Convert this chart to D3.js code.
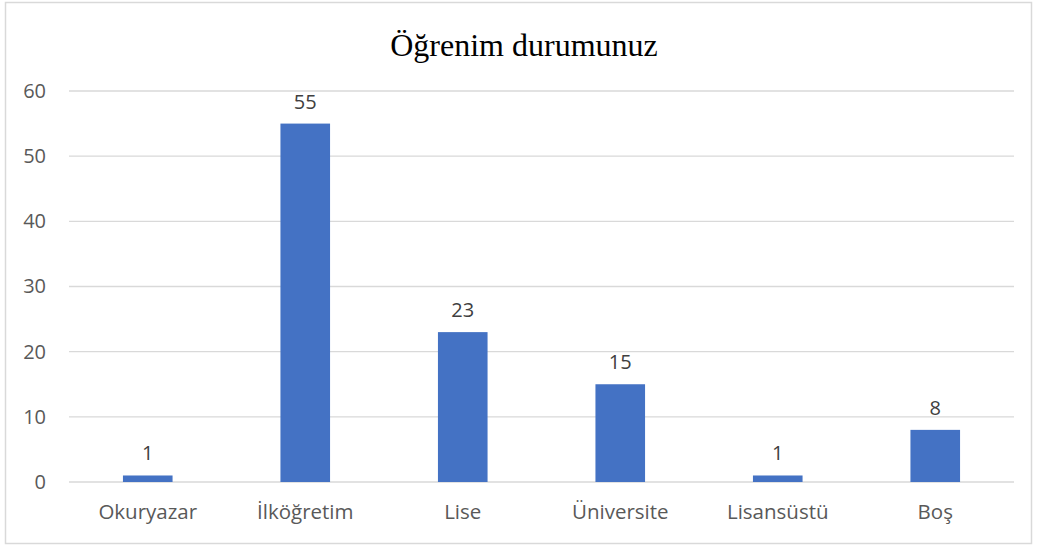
<!DOCTYPE html>
<html><head><meta charset="utf-8">
<script src="https://cdn.jsdelivr.net/npm/d3@7"></script>
<style>body{margin:0;background:#fff}</style>
</head><body>
<svg id="c" width="1037" height="547"></svg>
<script>
const categories = ["Okuryazar","İlköğretim","Lise","Üniversite","Lisansüstü","Boş"];
const values = [1,55,23,15,1,8];
const yTicks = [0,10,20,30,40,50,60];
const title = "Öğrenim durumunuz";

const svg = d3.select("#c");
const font = "'Open Sans', Lato, sans-serif";
svg.append("rect").attr("x",5.5).attr("y",2.5).attr("width",1026).attr("height",541)
  .attr("fill","#fff").attr("stroke","#d9d9d9").attr("stroke-width",1.5);

const x = d3.scaleBand().domain(categories).range([69,1014]).paddingInner(0.685).paddingOuter(0.3425);
const y = d3.scaleLinear().domain([0,60]).range([482,91]);

svg.append("g").selectAll("line").data(yTicks).join("line")
  .attr("x1",69).attr("x2",1014).attr("y1",d=>y(d)).attr("y2",d=>y(d))
  .attr("stroke","#d9d9d9").attr("stroke-width",1.3);

const ya = svg.append("g").attr("transform","translate(50,0)")
  .call(d3.axisLeft(y).tickValues(yTicks).tickSize(0).tickPadding(4));
ya.select(".domain").remove();
ya.selectAll("text").attr("font-family",font).attr("font-size",20).attr("fill","#595959");

const xa = svg.append("g").attr("transform","translate(0,500)")
  .call(d3.axisBottom(x).tickSize(0).tickPadding(4));
xa.select(".domain").remove();
xa.selectAll("text").attr("font-family",font).attr("font-size",20.5).attr("fill","#595959");

svg.append("g").selectAll("text").data(values).join("text")
  .attr("x",(d,i)=>x(categories[i])+x.bandwidth()/2).attr("y",d=>y(d)-15)
  .attr("text-anchor","middle").attr("font-family",font).attr("font-size",20)
  .attr("fill","#404040").text(d=>d);

svg.append("g").selectAll("rect").data(values).join("rect")
  .attr("x",(d,i)=>x(categories[i])).attr("width",x.bandwidth())
  .attr("y",d=>y(d)).attr("height",d=>y(0)-y(d)).attr("fill","#4472c4");

svg.append("text").attr("x",524).attr("y",56).attr("text-anchor","middle")
  .attr("font-family","'Liberation Serif', serif").attr("font-size",32).attr("fill","#000")
  .text(title);
</script>
</body></html>
